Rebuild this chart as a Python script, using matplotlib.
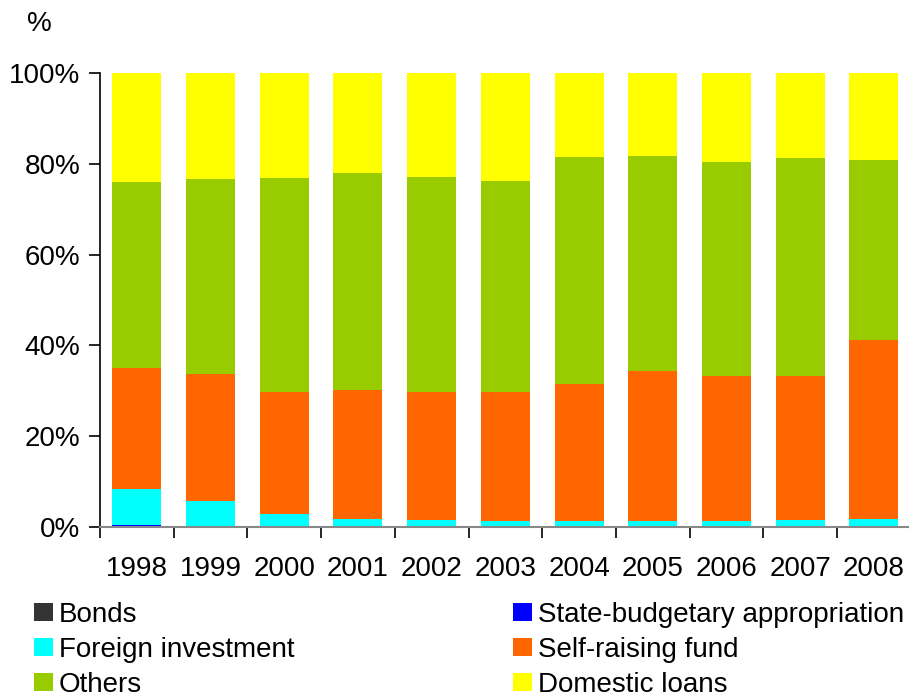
import numpy as np
import matplotlib.pyplot as plt
from matplotlib.patches import Patch

plt.rcParams['font.family'] = ['Liberation Sans', 'DejaVu Sans']

years = ['1998', '1999', '2000', '2001', '2002', '2003',
         '2004', '2005', '2006', '2007', '2008']

# shares in percent, bottom to top
bonds = [0.0, 0.3, 0.0, 0.0, 0.0, 0.0, 0.0, 0.0, 0.0, 0.0, 0.0]
state_budget = [0.4, 0.0, 0.0, 0.0, 0.0, 0.0, 0.0, 0.0, 0.0, 0.0, 0.0]
foreign = [8.0, 5.4, 2.9, 1.8, 1.5, 1.3, 1.3, 1.2, 1.3, 1.6, 1.7]
self_raising = [26.6, 28.1, 26.8, 28.4, 28.2, 28.4, 30.2, 33.2, 32.0, 31.7, 39.5]
others = [41.0, 42.9, 47.2, 47.8, 47.4, 46.6, 50.0, 47.3, 47.1, 48.0, 39.6]
domestic = [24.0, 23.3, 23.1, 22.0, 22.9, 23.7, 18.5, 18.3, 19.6, 18.7, 19.2]

series = [
    ('Bonds', bonds, '#333333'),
    ('State-budgetary appropriation', state_budget, '#0000FF'),
    ('Foreign investment', foreign, '#00FFFF'),
    ('Self-raising fund', self_raising, '#FF6600'),
    ('Others', others, '#99CC00'),
    ('Domestic loans', domestic, '#FFFF00'),
]

total = np.sum([np.array(s[1]) for s in series], axis=0)

fig = plt.figure(figsize=(9.09, 6.97), dpi=100)
ax = fig.add_axes([0.110, 0.244, 0.892, 0.651])

x = np.arange(len(years))
bottom = np.zeros(len(years))
for name, vals, col in series:
    v = np.array(vals) / total * 100
    ax.bar(x, v, bottom=bottom, width=0.665, color=col, linewidth=0)
    bottom += v

ax.set_xlim(-0.5, len(years) - 0.5)
ax.set_ylim(0, 100)
ax.set_yticks(np.arange(0, 101, 20))
ax.set_yticklabels([f'{t}%' for t in range(0, 101, 20)])

# ticks between categories, labels centred under bars
ax.set_xticks(np.arange(-0.5, len(years), 1.0))
ax.set_xticklabels([])
ax.set_xticks(x, minor=True)
ax.set_xticklabels(years, minor=True)
ax.tick_params(axis='x', which='minor', length=0, pad=21, labelsize=20)
ax.tick_params(axis='x', which='major', length=8, width=1.2, direction='out')
ax.tick_params(axis='y', length=8, width=1.2, direction='out', labelsize=20, pad=6)

for s in ['top', 'right']:
    ax.spines[s].set_visible(False)
ax.spines['left'].set_linewidth(1.2)
ax.spines['bottom'].set_color('#888888')
ax.spines['bottom'].set_linewidth(1.5)

fig.text(0.03, 0.965, '%', fontsize=20, ha='left', va='center')

handles = {name: Patch(facecolor=col, edgecolor='none') for name, _, col in series}
legend_kw = dict(frameon=False, fontsize=20, handlelength=0.7, handleheight=0.6,
                 handletextpad=0.2, labelspacing=0.33, borderpad=0, borderaxespad=0)
left_names = ['Bonds', 'Foreign investment', 'Others']
right_names = ['State-budgetary appropriation', 'Self-raising fund', 'Domestic loans']
fig.legend([handles[n] for n in left_names], left_names, loc='upper left',
           bbox_to_anchor=(0.037, 0.137), **legend_kw)
fig.legend([handles[n] for n in right_names], right_names, loc='upper left',
           bbox_to_anchor=(0.564, 0.137), **legend_kw)

fig.savefig('out.png', dpi=100)
